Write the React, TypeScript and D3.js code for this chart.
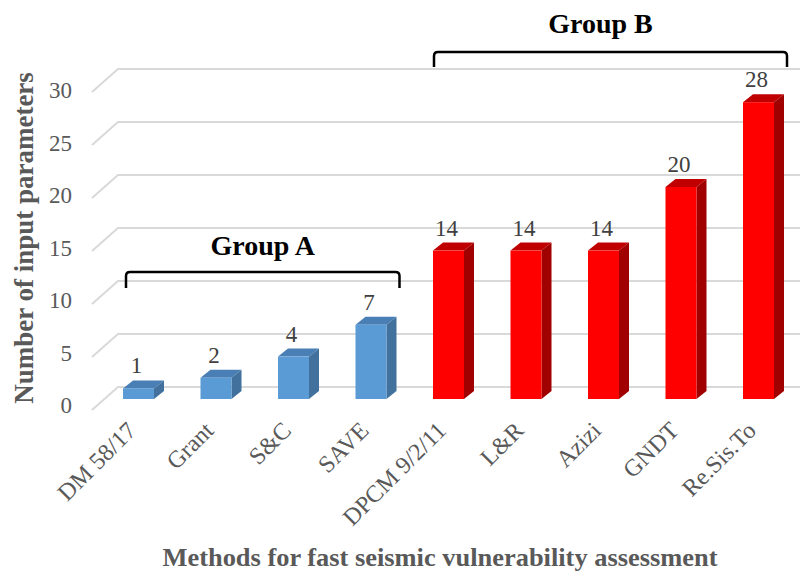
import * as d3 from "d3";

const methods = [
  "DM 58/17",
  "Grant",
  "S&C",
  "SAVE",
  "DPCM 9/2/11",
  "L&R",
  "Azizi",
  "GNDT",
  "Re.Sis.To",
];
const inputParams = [1, 2, 4, 7, 14, 14, 14, 20, 28];
const groupOf = ["A", "A", "A", "A", "B", "B", "B", "B", "B"];
const yTicks = [0, 5, 10, 15, 20, 25, 30];

const W = 804;
const H = 574;
const FONT = "'Liberation Serif', 'Times New Roman', serif";

// bar depth offsets (pseudo 3D)
const DX = 10;
const DY = -8;
const FRONT = 12; // bar front sits this far below the back wall baseline

const COLORS: Record<string, { front: string; top: string; side: string }> = {
  A: { front: "#5b9bd5", top: "#4a7fb5", side: "#41719c" },
  B: { front: "#ff0000", top: "#c00000", side: "#a00000" },
};

export default function App() {
  const y = d3.scaleLinear().domain([0, 30]).range([387, 69]);
  const yLabel = d3.scaleLinear().domain([0, 30]).range([413, 98]);
  const x = d3
    .scaleBand<string>()
    .domain(methods)
    .range([99.75, 797.25])
    .paddingInner(0.6)
    .paddingOuter(0.3);
  const bw = x.bandwidth();

  const bracket = (xl: number, xr: number, yb: number, drop: number) => {
    const r = 4;
    return `M${xl},${yb + drop} L${xl},${yb + r} Q${xl},${yb} ${xl + r},${yb} L${xr - r},${yb} Q${xr},${yb} ${xr},${yb + r} L${xr},${yb + drop}`;
  };

  const aL = x(methods[0])! + 3;
  const aR = x(methods[3])! + bw + DX + 3;
  const bL = x(methods[4])! + 1;
  const bR = x(methods[8])! + bw + DX + 3;

  return (
    <div style={{ position: "absolute", left: 0, top: 0 }}>
      <svg width={W} height={H} style={{ display: "block", background: "#fff" }}>
        {/* gridlines with wall diagonal */}
        <g fill="none" stroke="#d9d9d9" strokeWidth={2}>
          {yTicks.map((t) => (
            <path key={t} d={`M92,${y(t) + 23} L118,${y(t)} L800,${y(t)}`} />
          ))}
        </g>

        {/* y tick labels */}
        <g fontFamily={FONT} fontSize={23} fill="#595959" textAnchor="end">
          {yTicks.map((t) => (
            <text key={t} x={72} y={yLabel(t)}>
              {t}
            </text>
          ))}
        </g>

        {/* bars */}
        {methods.map((m, i) => {
          const v = inputParams[i];
          const c = COLORS[groupOf[i]];
          const x0 = x(m)!;
          const top = y(v) + FRONT;
          const bot = y(0) + FRONT;
          return (
            <g key={m}>
              <polygon
                points={`${x0},${top} ${x0 + bw},${top} ${x0 + bw + DX},${top + DY} ${x0 + DX},${top + DY}`}
                fill={c.top}
              />
              <polygon
                points={`${x0 + bw},${top} ${x0 + bw + DX},${top + DY} ${x0 + bw + DX},${bot + DY} ${x0 + bw},${bot}`}
                fill={c.side}
              />
              <rect x={x0} y={top} width={bw} height={bot - top} fill={c.front} />
              <text
                x={x0 + bw / 2 - 2}
                y={top - 15}
                textAnchor="middle"
                fontFamily={FONT}
                fontSize={23}
                fill="#404040"
              >
                {v}
              </text>
            </g>
          );
        })}

        {/* category labels */}
        <g fontFamily={FONT} fontSize={24} fill="#595959" textAnchor="end">
          {methods.map((m) => {
            const cx = x(m)! + bw / 2 - 1;
            return (
              <text key={m} transform={`translate(${cx},432) rotate(-45)`}>
                {m}
              </text>
            );
          })}
        </g>

        {/* group brackets */}
        <g fill="none" stroke="#000" strokeWidth={2.5}>
          <path d={bracket(aL, aR, 272, 16)} />
          <path d={bracket(bL, bR, 52, 15)} />
        </g>
        <g fontFamily={FONT} fontWeight="bold" fontSize={28} fill="#000" textAnchor="middle">
          <text x={(aL + aR) / 2} y={255}>
            Group A
          </text>
          <text x={(bL + bR) / 2 - 10} y={33}>
            Group B
          </text>
        </g>

        {/* axis titles */}
        <text
          transform={`translate(33,238) rotate(-90)`}
          textAnchor="middle"
          fontFamily={FONT}
          fontWeight="bold"
          fontSize={27}
          fill="#595959"
        >
          Number of input parameters
        </text>
        <text
          x={440}
          y={566}
          textAnchor="middle"
          fontFamily={FONT}
          fontWeight="bold"
          fontSize={25}
          fill="#595959"
          textLength={555}
          lengthAdjust="spacingAndGlyphs"
        >
          Methods for fast seismic vulnerability assessment
        </text>
      </svg>
    </div>
  );
}
